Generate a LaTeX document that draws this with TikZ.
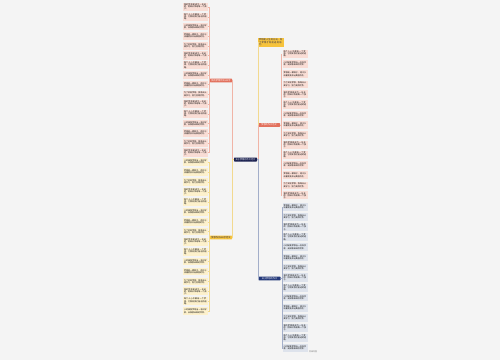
\documentclass[tikz,border=0pt]{standalone}
\usepackage{fontspec}
\newfontfamily\cjk{Noto Sans CJK SC}
\XeTeXlinebreaklocale "zh"
\XeTeXlinebreakskip=0pt plus 1pt
\usetikzlibrary{positioning}
\definecolor{canvas}{HTML}{F4F4F4}
\definecolor{navy}{HTML}{1B2150}
\definecolor{coral}{HTML}{E2705C}
\definecolor{coralbg}{HTML}{F9DDD5}
\definecolor{coralln}{HTML}{F0B4A6}
\definecolor{gold}{HTML}{F6C33C}
\definecolor{goldbg}{HTML}{FDF1CC}
\definecolor{goldln}{HTML}{F2D98F}
\definecolor{steel}{HTML}{24397A}
\definecolor{steelbg}{HTML}{DEE3EC}
\definecolor{steelln}{HTML}{A3AEC9}
\newcommand\leaftext[1]{\ifcase#1 我的梦想是成为一名老师，把知识传给每一个孩子。\or 每个人心中都有一个梦想，它照亮我们前进的道路。\or 小时候我梦想当一名科学家，去探索未知的世界。\or 梦想是一颗种子，用汗水浇灌就会开出美丽的花。\or 为了实现梦想，我每天认真学习，努力变得优秀。\fi}

\begin{document}
\begin{tikzpicture}[x=1pt,y=-1pt,
  base/.style={inner sep=0pt,font=\cjk\fontsize{2.2}{2.4}\selectfont},
  root/.style={base,fill=navy,text=white,minimum width=23pt,minimum height=4pt,rounded corners=0.6pt},
  branch/.style={base,minimum width=22pt,minimum height=3.6pt,rounded corners=0.4pt},
  leaf/.style={inner sep=1pt,text width=23pt,minimum height=7.6pt,align=left,font=\cjk\fontsize{2}{2.1}\selectfont}]
\fill[canvas] (0,0) rectangle (500,360);
\useasboundingbox (0,0) rectangle (500,360);

\node[root] (hub) at (245.5,159.5) {关于梦想的作文范文};
\node[branch,fill=coral,text=white] (lsal) at (221,80.5) {我的梦想作文800字};
\node[branch,fill=gold,text=navy] (lgold) at (221,237.5) {梦想作文600字范文};
\node[base,fill=gold,text=navy,text width=24pt,minimum height=9pt,inner sep=1pt,align=left] (rtop) at (271,42.5) {梦想是人生的方向，有了梦想才有前进的动力。};
\node[branch,fill=coral,text=white] (rsal) at (269,125) {梦想的作文范文};
\node[branch,fill=steel,text=white] (rblue) at (269.5,278.5) {关于梦想的作文};

% left leaves
\foreach \i in {0,...,15}{
  \pgfmathtruncatemacro\k{mod(\i,5)}
  \node[leaf,fill=coralbg] (ls\i) at (195.5,7+\i*9.7) {\leaftext{\k}};
  \draw[coralln] (lsal.west) -- ++(-1,0) |- (ls\i.east);
  \pgfmathtruncatemacro\k{mod(\i+2,5)}
  \node[leaf,fill=goldbg] (lg\i) at (195.5,162+\i*9.95) {\leaftext{\k}};
  \draw[goldln] (lgold.west) -- ++(-1,0) |- (lg\i.east);
}
% right leaves
\foreach \i in {0,...,14}{
  \pgfmathtruncatemacro\k{mod(\i+1,5)}
  \node[leaf,fill=coralbg] (rs\i) at (295,54+\i*10.1) {\leaftext{\k}};
  \draw[coralln] (rsal.east) -- ++(1,0) |- (rs\i.west);
  \pgfmathtruncatemacro\k{mod(\i+3,5)}
  \node[leaf,fill=steelbg] (rb\i) at (295,207+\i*10.07) {\leaftext{\k}};
  \draw[steelln] (rblue.east) -- ++(1,0) |- (rb\i.west);
}

\draw[coralln] (hub.west) -- ++(-1.5,0) |- (lsal.east);
\draw[goldln] (hub.west) -- ++(-1.5,0) |- (lgold.east);
\draw[goldln] (hub.east) -- ++(1,0) |- (rtop.west);
\draw[coralln] (hub.east) -- ++(1,0) |- (rsal.west);
\draw[steelln] (hub.east) -- ++(1,0) |- (rblue.west);

\node[font=\cjk\fontsize{2}{2.2}\selectfont,text=gray,inner sep=0pt] (credit) at (313,352) {思维导图};
\end{tikzpicture}
\end{document}
